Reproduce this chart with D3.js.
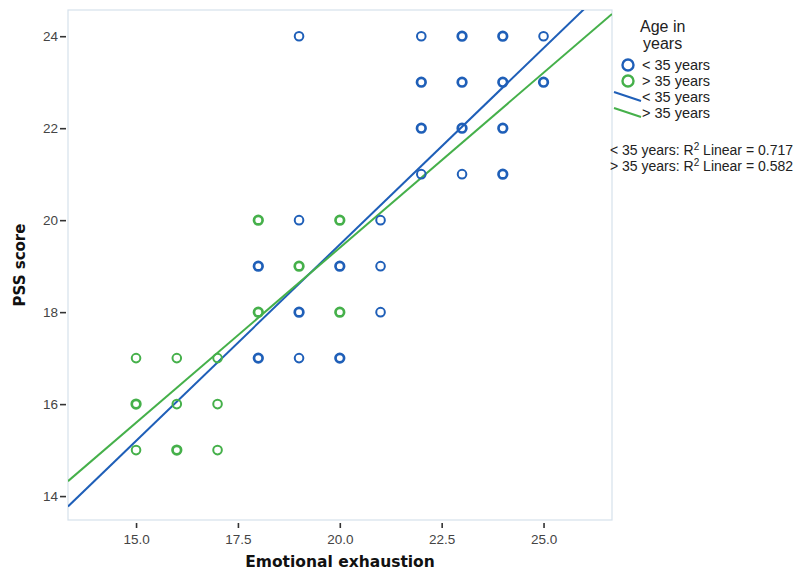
<!DOCTYPE html>
<html>
<head>
<meta charset="utf-8">
<script src="https://cdn.jsdelivr.net/npm/d3@7"></script>
<style>
  body { margin: 0; background: #fff; }
  svg { font-family: "Liberation Sans", Arial, sans-serif; }
</style>
</head>
<body>
<svg id="chart" width="803" height="573"></svg>
<script>
// points: [emotional exhaustion, PSS score, count]
const young = [
  [19, 24, 1], [22, 24, 1], [23, 24, 2], [24, 24, 2], [25, 24, 1],
  [22, 23, 2], [23, 23, 2], [24, 23, 2], [25, 23, 2],
  [22, 22, 2], [23, 22, 2], [24, 22, 2],
  [22, 21, 1], [23, 21, 1], [24, 21, 2],
  [19, 20, 1], [21, 20, 1],
  [18, 19, 2], [20, 19, 2], [21, 19, 1],
  [19, 18, 2], [21, 18, 1],
  [18, 17, 2], [19, 17, 1], [20, 17, 2]
];
const older = [
  [18, 20, 2], [20, 20, 2],
  [19, 19, 2],
  [18, 18, 2], [20, 18, 2],
  [15, 17, 1], [16, 17, 1], [17, 17, 1],
  [15, 16, 2], [16, 16, 1], [17, 16, 1],
  [15, 15, 1], [16, 15, 2], [17, 15, 1]
];
// fit lines
const fits = [
  { name: "< 35 years", intercept: 2.39, slope: 0.854, r2: "0.717" },
  { name: "> 35 years", intercept: 4.18, slope: 0.761, r2: "0.582" }
];
const xTicks = [15, 17.5, 20, 22.5, 25];
const yTicks = [14, 16, 18, 20, 22, 24];

const colors = { young: "#1f5fb8", older: "#45b04a" };

const svg = d3.select("#chart");
const margin = { top: 10, right: 191, bottom: 53, left: 68 };
const width = 803 - margin.left - margin.right;
const height = 573 - margin.top - margin.bottom;

const x = d3.scaleLinear().domain([13.33, 26.68]).range([0, width]);
const y = d3.scaleLinear().domain([13.48, 24.57]).range([height, 0]);

const g = svg.append("g").attr("transform", `translate(${margin.left},${margin.top})`);

g.append("defs").append("clipPath").attr("id", "clip")
  .append("rect").attr("width", width).attr("height", height);

g.append("rect")
  .attr("width", width).attr("height", height)
  .attr("fill", "none").attr("stroke", "#d6e1ec").attr("stroke-width", 1.2);

// axes
const xAxis = g.append("g").attr("transform", `translate(0,${height})`)
  .call(d3.axisBottom(x).tickValues(xTicks).tickFormat(d3.format(".1f")).tickSize(8).tickPadding(6));
const yAxis = g.append("g")
  .call(d3.axisLeft(y).tickValues(yTicks).tickFormat(d3.format("d")).tickSize(8).tickPadding(2));
[xAxis, yAxis].forEach(a => {
  a.select(".domain").remove();
  a.selectAll(".tick line").attr("stroke", "#333").attr("stroke-width", 1.6);
  a.selectAll(".tick text").attr("fill", "#444").style("font-size", "13.5px");
});
xAxis.selectAll(".tick line").attr("y1", 3);
yAxis.selectAll(".tick line").attr("x1", -2);

// regression lines
const plot = g.append("g").attr("clip-path", "url(#clip)");
fits.forEach((f, i) => {
  const dom = x.domain();
  plot.append("line")
    .attr("x1", x(dom[0])).attr("y1", y(f.intercept + f.slope * dom[0]))
    .attr("x2", x(dom[1])).attr("y2", y(f.intercept + f.slope * dom[1]))
    .attr("stroke", i === 0 ? colors.young : colors.older)
    .attr("stroke-width", 2);
});

// points
function drawPoints(data, color) {
  plot.selectAll(null).data(data).join("circle")
    .attr("cx", d => x(d[0])).attr("cy", d => y(d[1]))
    .attr("r", 4.3)
    .attr("fill", "none")
    .attr("stroke", color)
    .attr("stroke-width", d => d[2] > 1 ? 2.7 : 2);
}
drawPoints(older, colors.older);
drawPoints(young, colors.young);

// axis titles
svg.append("text")
  .attr("transform", "translate(25,265) rotate(-90)")
  .attr("text-anchor", "middle")
  .style("font-family", "DejaVu Sans, sans-serif")
  .style("font-weight", "bold").style("font-size", "15px")
  .attr("fill", "#111")
  .text("PSS score");
svg.append("text")
  .attr("x", 340).attr("y", 567)
  .attr("text-anchor", "middle")
  .style("font-family", "DejaVu Sans, sans-serif")
  .style("font-weight", "bold").style("font-size", "15.5px")
  .attr("fill", "#111")
  .text("Emotional exhaustion");

// legend
const leg = svg.append("g").style("font-size", "14.5px").attr("fill", "#222");
leg.append("text").attr("x", 640).attr("y", 32).style("font-size", "16px").text("Age in");
leg.append("text").attr("x", 643).attr("y", 49).style("font-size", "16px").text("years");

const items = [
  { type: "circle", color: colors.young, label: fits[0].name },
  { type: "circle", color: colors.older, label: fits[1].name },
  { type: "line", color: colors.young, label: fits[0].name },
  { type: "line", color: colors.older, label: fits[1].name }
];
items.forEach((it, i) => {
  const cy = 65 + i * 16;
  if (it.type === "circle") {
    leg.append("circle").attr("cx", 628).attr("cy", cy).attr("r", 5.5)
      .attr("fill", "none").attr("stroke", it.color).attr("stroke-width", 2.4);
  } else {
    leg.append("line").attr("x1", 614).attr("y1", cy - 5).attr("x2", 641).attr("y2", cy + 4)
      .attr("stroke", it.color).attr("stroke-width", 2);
  }
  leg.append("text").attr("x", 642).attr("y", cy + 5).text(it.label);
});

fits.forEach((f, i) => {
  const t = leg.append("text").attr("x", 610).attr("y", 155 + i * 16).style("font-size", "14px");
  t.append("tspan").text(`${f.name}: R`);
  t.append("tspan").attr("dy", -5).style("font-size", "10px").text("2");
  t.append("tspan").attr("dy", 5).text(` Linear = ${f.r2}`);
});
</script>
</body>
</html>
